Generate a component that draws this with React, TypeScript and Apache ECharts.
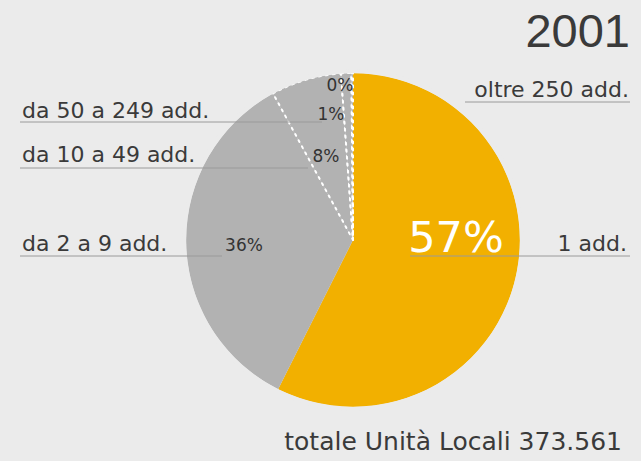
import React, { useEffect, useRef } from "react";
import * as echarts from "echarts";

// ---- data ----
const categories = ["1 add.", "da 2 a 9 add.", "da 10 a 49 add.", "da 50 a 249 add.", "oltre 250 add."];
const sliceShares = [57.4, 34.65, 6.8, 1.0, 0.15];
const percentLabels = ["57%", "36%", "8%", "1%", "0%"];
const yearLabel = "2001";
const totalLabel = "totale Unità Locali 373.561";

// ---- styles / layout ----
const BG = "#ebebeb";
const YELLOW = "#f2b000";
const GREY = "#b2b2b2";
const TEXT = "#3a3a3a";
const LINE = "#9a9a9a";
const FONT = "'DejaVu Sans', sans-serif";
const CX = 353;
const CY = 240;
const R = 167;

// label anchor positions for percent labels (index matches categories)
const pctPos: number[][] = [
  [456, 237],
  [244, 245],
  [326, 156],
  [331, 114],
  [340, 85],
];
// category name labels: [x, y, align, lineX1, lineX2, lineY]
const nameLayout: any[] = [
  [627, 243, "right", 410, 630, 256],
  [22, 243, "left", 20, 222, 256],
  [22, 154, "left", 20, 308, 168],
  [22, 110, "left", 20, 322, 122],
  [629, 89, "right", 465, 630, 102],
];

export default function App() {
  const ref = useRef<HTMLDivElement>(null);
  useEffect(() => {
    document.body.style.margin = "0";
    const chart = echarts.init(ref.current!, undefined, { renderer: "svg" });
    const graphics: any[] = [];
    categories.forEach((name, i) => {
      const [x, y, align, x1, x2, ly] = nameLayout[i];
      graphics.push({
        type: "line",
        z: 100,
        shape: { x1, y1: ly, x2, y2: ly },
        style: { stroke: LINE, lineWidth: 1 },
        silent: true,
      });
      graphics.push({
        type: "text",
        z: 101,
        x,
        y,
        style: {
          text: name,
          fill: TEXT,
          font: `22px ${FONT}`,
          textAlign: align,
          textVerticalAlign: "middle",
        },
        silent: true,
      });
    });
    graphics.push({
      type: "text",
      z: 101,
      x: 630,
      y: 30,
      style: {
        text: yearLabel,
        fill: TEXT,
        font: `47px 'Liberation Sans Narrow', sans-serif`,
        textAlign: "right",
        textVerticalAlign: "middle",
      },
    });
    graphics.push({
      type: "text",
      z: 101,
      x: 622,
      y: 441,
      style: {
        text: totalLabel,
        fill: TEXT,
        font: `25px ${FONT}`,
        textAlign: "right",
        textVerticalAlign: "middle",
      },
    });

    const greyBorder = {
      borderColor: "#ffffff",
      borderWidth: 2,
      borderType: [2, 5],
      borderCap: "round",
    };

    chart.setOption({
      animation: false,
      backgroundColor: BG,
      graphic: graphics,
      series: [
        {
          type: "pie",
          center: [CX, CY],
          radius: [0, R],
          startAngle: 90,
          clockwise: true,
          silent: true,
          avoidLabelOverlap: false,
          labelLine: { show: false },
          label: {
            show: true,
            position: "inside",
            formatter: (p: any) => percentLabels[p.dataIndex],
            color: "#333",
            fontFamily: FONT,
            fontSize: 17,
          },
          labelLayout: (p: any) => ({
            x: pctPos[p.dataIndex][0],
            y: pctPos[p.dataIndex][1],
            align: "center",
            verticalAlign: "middle",
          }),
          data: categories.map((name, i) => ({
            name,
            value: sliceShares[i],
            itemStyle:
              i === 0
                ? { color: YELLOW, borderWidth: 0 }
                : i === 1
                ? { color: GREY, borderWidth: 0 }
                : { color: GREY, ...greyBorder },
            label:
              i === 0
                ? { color: "#ffffff", fontSize: 43 }
                : {},
          })),
        },
        {
          type: "pie",
          center: [CX, CY],
          radius: [R - 0.2, R + 4],
          silent: true,
          z: 3,
          label: { show: false },
          labelLine: { show: false },
          itemStyle: { color: BG, borderWidth: 0 },
          data: [{ value: 1, name: "" }],
        },
      ],
    });
    return () => chart.dispose();
  }, []);
  return <div ref={ref} style={{ width: 641, height: 461 }} />;
}
